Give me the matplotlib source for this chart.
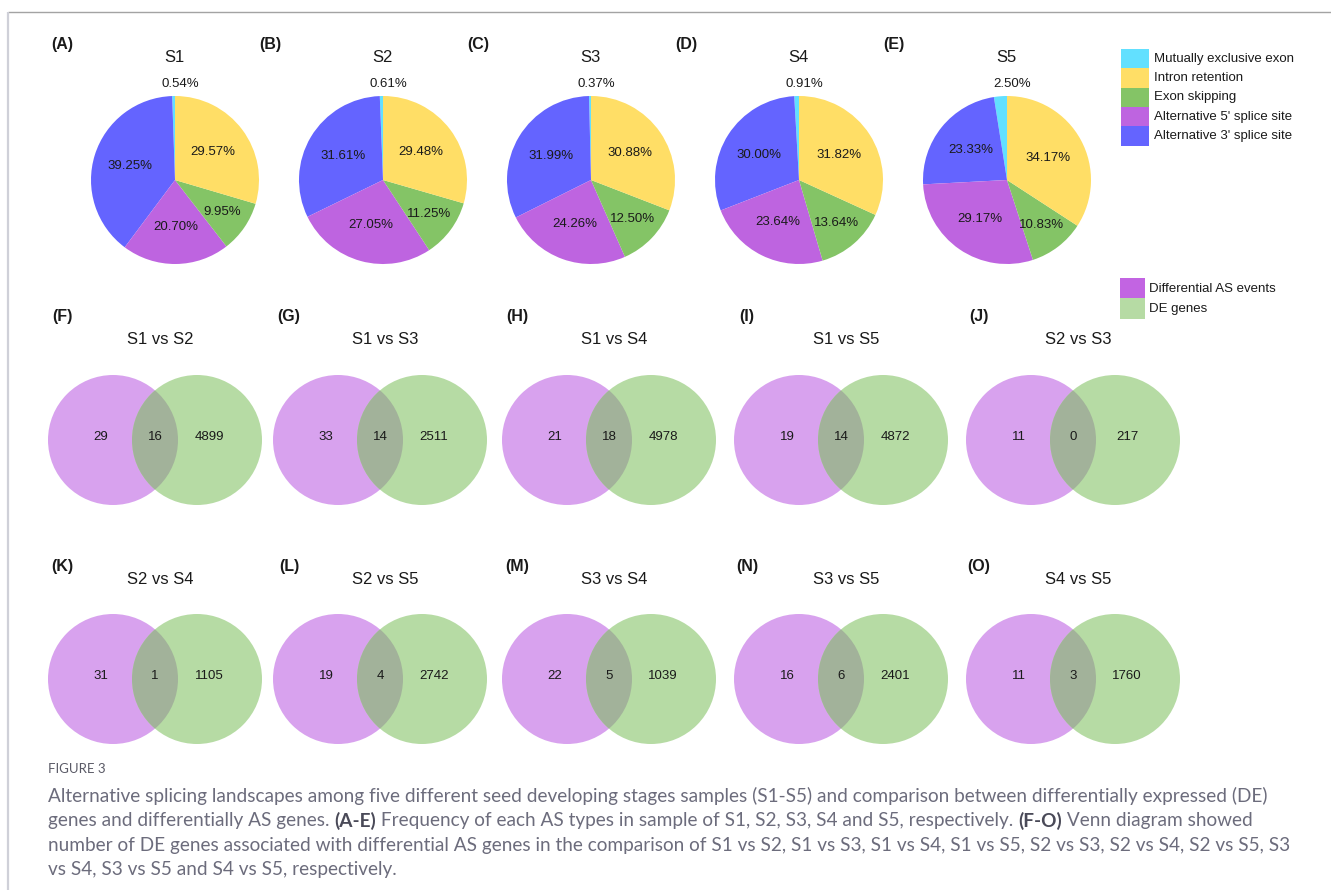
import matplotlib
matplotlib.use("Agg")
import matplotlib.pyplot as plt
from matplotlib.patches import Circle, Rectangle
import numpy as np

# ---------------- data ----------------
samples = ["S1", "S2", "S3", "S4", "S5"]
pie_tags = ["(A)", "(B)", "(C)", "(D)", "(E)"]
as_types = ["Mutually exclusive exon", "Intron retention", "Exon skipping",
            "Alternative 5' splice site", "Alternative 3' splice site"]
mxe = [0.54, 0.61, 0.37, 0.91, 2.50]
intron_ret = [29.57, 29.48, 30.88, 31.82, 34.17]
exon_skip = [9.95, 11.25, 12.50, 13.64, 10.83]
alt5 = [20.70, 27.05, 24.26, 23.64, 29.17]
alt3 = [39.25, 31.61, 31.99, 30.00, 23.33]

venn_tags = ["(F)", "(G)", "(H)", "(I)", "(J)", "(K)", "(L)", "(M)", "(N)", "(O)"]
comparisons = ["S1 vs S2", "S1 vs S3", "S1 vs S4", "S1 vs S5", "S2 vs S3",
               "S2 vs S4", "S2 vs S5", "S3 vs S4", "S3 vs S5", "S4 vs S5"]
as_only = [29, 33, 21, 19, 11, 31, 19, 22, 16, 11]
shared = [16, 14, 18, 14, 0, 1, 4, 5, 6, 3]
de_only = [4899, 2511, 4978, 4872, 217, 1105, 2742, 1039, 2401, 1760]
venn_names = ["Differential AS events", "DE genes"]

# ---------------- style ----------------
W, H = 1331, 890
PIE_COLORS = ["#62e0ff", "#ffde66", "#84c466", "#be64e0", "#6464ff"]
V_PURPLE, V_GREEN, V_LENS = "#d8a2ee", "#b6dba4", "#a2b29a"
LEG_PURPLE = "#c264e2"
SANS = ["Liberation Sans", "DejaVu Sans"]
TXT = "#1a1a1a"

fig = plt.figure(figsize=(W / 100, H / 100), dpi=100)
ax = fig.add_axes([0, 0, 1, 1])


def Y(y):
    return H - y


# frame lines of the figure page
ax.plot([8, W], [Y(12), Y(12)], color="#a3a3a3", lw=1.0, solid_capstyle="butt")
ax.plot([8, 8], [Y(12), 0], color="#cfd0d8", lw=1.6, solid_capstyle="butt")

# ---------------- pies ----------------
pie_cx = [175, 383, 591, 799, 1007]
pie_cy = 180
R = 84
for i, s in enumerate(samples):
    # counter-clockwise from the top: MXE, A3SS, A5SS, ES, IR
    order = [0, 4, 3, 2, 1]
    vals = [mxe[i], intron_ret[i], exon_skip[i], alt5[i], alt3[i]]
    v = [vals[k] for k in order]
    c = [PIE_COLORS[k] for k in order]
    wedges, _ = ax.pie(v, colors=c, startangle=90, counterclock=True,
                       center=(pie_cx[i], Y(pie_cy)), radius=R, frame=True,
                       wedgeprops=dict(linewidth=0))
    for w, val in zip(wedges[1:], v[1:]):
        mid = np.deg2rad((w.theta1 + w.theta2) / 2)
        rr = R * (0.68 if val < 15 else 0.56)
        ax.text(pie_cx[i] + rr * np.cos(mid), Y(pie_cy) + rr * np.sin(mid),
                f"{val:.2f}%", ha="center", va="center", fontsize=9.5,
                family=SANS, color=TXT)
    ax.text(pie_cx[i] + 5, Y(pie_cy - 96), f"{v[0]:.2f}%", ha="center",
            va="center", fontsize=9.5, family=SANS, color=TXT)
    ax.text(pie_cx[i] - 1, Y(57), s, ha="center", va="center", fontsize=12,
            family=SANS, color=TXT)
    ax.text(pie_cx[i] - 113, Y(45), pie_tags[i], ha="center", va="center",
            fontsize=11.5, fontweight="bold", family=SANS, color=TXT)

# pie legend
leg_tops = [49, 68.3, 87.6, 106.9, 126.2]
for k, name in enumerate(as_types):
    ax.add_patch(Rectangle((1121, Y(leg_tops[k] + 19.3)), 28, 19.3,
                           facecolor=PIE_COLORS[k], edgecolor="none"))
    ax.text(1154, Y(leg_tops[k] + 9.8), name, ha="left", va="center",
            fontsize=9.5, family=SANS, color=TXT)

# ---------------- venn diagrams ----------------
col_lcx = [113, 338, 567, 799, 1031]
tag_x = [62, 289, 517, 747, 979]
row_cy = [440, 679]
row_title = [339, 579]
row_tag = [316, 566]
VR, D = 65, 84
for j, comp in enumerate(comparisons):
    row, col = divmod(j, 5)
    lx, cy = col_lcx[col], Y(row_cy[row])
    rx = lx + D
    left = Circle((lx, cy), VR, facecolor=V_PURPLE, edgecolor="none")
    right = Circle((rx, cy), VR, facecolor=V_GREEN, edgecolor="none")
    lens = Circle((rx, cy), VR, facecolor=V_LENS, edgecolor="none")
    ax.add_patch(left)
    ax.add_patch(right)
    ax.add_patch(lens)
    lens.set_clip_path(left)
    ny = cy + 3
    for xx, n in [(lx - 12, as_only[j]), ((lx + rx) / 2, shared[j]),
                  (rx + 12, de_only[j])]:
        ax.text(xx, ny, str(n), ha="center", va="center", fontsize=9.5,
                family=SANS, color=TXT)
    ax.text(lx + 47, Y(row_title[row]), comp, ha="center", va="center",
            fontsize=12, family=SANS, color=TXT)
    ax.text(tag_x[col], Y(row_tag[row]), venn_tags[j], ha="center",
            va="center", fontsize=11.5, fontweight="bold", family=SANS,
            color=TXT)

# venn legend
for k, (name, col) in enumerate(zip(venn_names, [LEG_PURPLE, V_GREEN])):
    top = 278 + 20.3 * k
    ax.add_patch(Rectangle((1120, Y(top + 20.3)), 25, 20.3, facecolor=col,
                           edgecolor="none"))
    ax.text(1149, Y(top + 10.5), name, ha="left", va="center", fontsize=9.5,
            family=SANS, color=TXT)

ax.set_xlim(0, W)
ax.set_ylim(0, H)
ax.set_aspect("auto")
ax.axis("off")

# ---------------- caption ----------------
CAP_FONT = ["Lato", "DejaVu Sans"]
CAP_GRAY = "#6c6c7c"
CAP_DARK = "#4a4a58"
ax.text(48, Y(769), "FIGURE 3", ha="left", va="center", fontsize=9.5,
        family=CAP_FONT, color="#5a5a66")

caption_lines = [
    [("Alternative splicing landscapes among five different seed developing "
      "stages samples (S1-S5) and comparison between differentially expressed (DE)", False)],
    [("genes and differentially AS genes. ", False), ("(A-E)", True),
     (" Frequency of each AS types in sample of S1, S2, S3, S4 and S5, respectively. ", False),
     ("(F-O)", True), (" Venn diagram showed", False)],
    [("number of DE genes associated with differential AS genes in the comparison "
      "of S1 vs S2, S1 vs S3, S1 vs S4, S1 vs S5, S2 vs S3, S2 vs S4, S2 vs S5, S3", False)],
    [("vs S4, S3 vs S5 and S4 vs S5, respectively.", False)],
]
line_y = [796, 820.5, 845, 869.5]

renderer = fig.canvas.get_renderer()
# size the caption so the first line spans the text column
probe = ax.text(0, 0, caption_lines[0][0][0], fontsize=10, family=CAP_FONT)
w10 = probe.get_window_extent(renderer).width
probe.remove()
cap_size = 10 * (1223 / w10)

for segs, yy in zip(caption_lines, line_y):
    x = 48
    for txt, bold in segs:
        t = ax.text(x, Y(yy), txt, ha="left", va="center", fontsize=cap_size,
                    family=CAP_FONT, fontweight="bold" if bold else "normal",
                    color=CAP_DARK if bold else CAP_GRAY)
        x += t.get_window_extent(renderer).width

fig.savefig("out.png", dpi=100, facecolor="white")
